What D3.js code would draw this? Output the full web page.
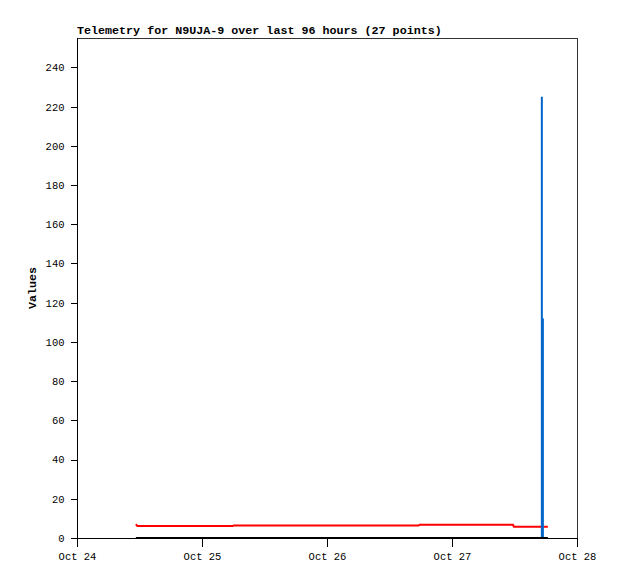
<!DOCTYPE html>
<html><head><meta charset="utf-8">
<script src="https://cdn.jsdelivr.net/npm/d3@7"></script>
<style>
body{margin:0;background:#fff;}
text{font-family:"Liberation Mono","DejaVu Sans Mono",monospace;}
</style></head>
<body><svg id="c" width="618" height="579"></svg>
<script>
const titleText = "Telemetry for N9UJA-9 over last 96 hours (27 points)";
const yLabel = "Values";
const startDay = new Date(2023, 9, 24);
const endDay = new Date(2023, 9, 28);
// hours after Oct 24 00:00
const hours = [11.3, 11.6, 15, 19, 23, 27, 29.9, 30.1, 35, 40, 45, 50, 55, 60,
  65.6, 65.8, 70, 75, 80, 83.7, 83.9, 86, 88, 89.25, 89.45, 90.0, 90.4];
const redVals = [7.0, 6.1, 6.1, 6.1, 6.1, 6.1, 6.1, 6.4, 6.4, 6.4, 6.4, 6.4, 6.4, 6.4,
  6.4, 6.8, 6.8, 6.8, 6.8, 6.8, 5.8, 5.8, 5.8, 5.8, 5.8, 5.8, 5.8];
const blackVals = [0,0,0,0,0,0,0,0,0,0,0,0,0,0,0,0,0,0,0,0,0,0,0,0,0,0,0];
const blueVals = [0,0,0,0,0,0,0,0,0,0,0,0,0,0,0,0,0,0,0,0,0,0,0,225,112,0,0];
const yTicks = [0,20,40,60,80,100,120,140,160,180,200,220,240];
const yMax = 255;

const times = hours.map(h => new Date(startDay.getTime() + h*3600e3));
const svg = d3.select("#c");
const L = 77, R = 577, T = 38, B = 538;
const x = d3.scaleTime().domain([startDay, endDay]).range([L, R]);
const y = d3.scaleLinear().domain([0, yMax]).range([B, T]);

// frame top/right
svg.append("path").attr("d", `M${L},${T+0.5}H${R+0.5}V${B}`)
  .attr("fill","none").attr("stroke","#333").attr("stroke-width",1).attr("shape-rendering","crispEdges");

// y axis
const ya = svg.append("g").attr("transform", `translate(${L+0.5},0)`)
  .call(d3.axisLeft(y).tickValues(yTicks).tickSize(7).tickPadding(6).tickFormat(d3.format("d")));
ya.select(".domain").attr("d", `M0,${T}V${B}`).attr("stroke","#000");
ya.selectAll("line").attr("stroke","#000");
ya.selectAll("text").attr("font-size","10.5px").attr("fill","#000")
  .attr("font-family","'Liberation Mono','DejaVu Sans Mono',monospace");
ya.attr("shape-rendering","crispEdges");

// x axis
const xa = svg.append("g").attr("transform", `translate(0,${B+0.5})`)
  .call(d3.axisBottom(x).ticks(d3.timeDay.every(1)).tickSize(8).tickPadding(6)
    .tickFormat(d3.timeFormat("%b %d")));
xa.select(".domain").attr("d", `M${L},0H${R+1}`).attr("stroke","#000");
xa.selectAll("line").attr("stroke","#000");
xa.selectAll("text").attr("font-size","10.5px").attr("fill","#000")
  .attr("font-family","'Liberation Mono','DejaVu Sans Mono',monospace");
xa.attr("shape-rendering","crispEdges");

// red series
const line = d3.line().x((d,i)=>x(times[i])).y(d=>y(d));
svg.append("path").datum(redVals).attr("d", line)
  .attr("fill","none").attr("stroke","#ff0000").attr("stroke-width",2);

// blue impulses
svg.append("g").selectAll("line").data(blueVals.map((v,i)=>({v,t:times[i]})).filter(d=>d.v>0))
  .join("line")
  .attr("x1",d=>x(d.t)).attr("x2",d=>x(d.t))
  .attr("y1",y(0)).attr("y2",d=>y(d.v))
  .attr("stroke","#0066cc").attr("stroke-width",2);

// black series
svg.append("path").datum(blackVals).attr("d", line)
  .attr("fill","none").attr("stroke","#000").attr("stroke-width",2);

// title
svg.append("text").attr("x", L).attr("y", 34).text(titleText)
  .attr("font-size","11.7px").attr("font-weight","bold").attr("fill","#000");

// y label
svg.append("text").attr("transform", `translate(36,${(T+B)/2}) rotate(-90)`)
  .attr("text-anchor","middle").text(yLabel)
  .attr("font-size","11.7px").attr("font-weight","bold").attr("fill","#000");
</script></body></html>
